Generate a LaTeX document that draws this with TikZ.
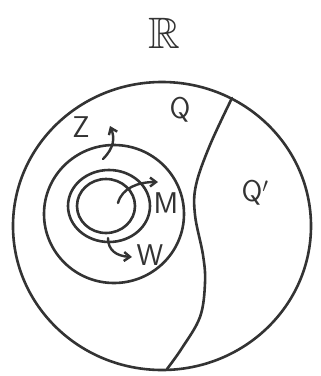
\documentclass[tikz,border=0pt]{standalone}
\usepackage{amsmath,amssymb}
\usepackage{tikz}
\usetikzlibrary{arrows.meta, positioning}

\begin{document}
\begin{tikzpicture}[
    x=1pt, y=-1pt, line width=2.6pt, line cap=round,
    region/.style={draw, line width=2.6pt, draw=black!80},
    setlabel/.style={font=\sffamily\fontsize{30}{32}\selectfont, text=black!80, inner sep=0pt},
    pointer/.style={-{Straight Barb[length=6pt, width=9pt, line width=2.4pt]}, line width=2.4pt, draw=black!80}
]
    \useasboundingbox (0,0) rectangle (321,376);

    % ================= TITLE =================
    \node[inner sep=0pt, text=black!80] (title) at (164,33) {\fontsize{44}{44}\selectfont$\mathbb{R}$};

    % ================= REGIONS =================
    \draw[region] (162,226) ellipse [x radius=149, y radius=144];
    \draw[region] (114,214) ellipse [x radius=70, y radius=69];
    \draw[region] (109,206) ellipse [x radius=41, y radius=36];
    \draw[region] (106,206) ellipse [x radius=29, y radius=27];

    % Q / Q' divider
    \draw[region] plot[smooth, tension=0.6] coordinates {
        (232,98) (210,145) (196,185) (195,215) (203,255)
        (205,283) (200,317) (182,348) (167,369)};

    % ================= LABELS =================
    \node[setlabel] (Q) at (180,110) {Q};
    \node[setlabel] (Qp) at (255,193) {Q$'$};
    \node[setlabel] (Z) at (81,127) {Z};
    \node[setlabel] (M) at (166,203) {M};
    \node[setlabel] (W) at (150,255) {W};

    % ================= POINTERS =================
    \coordinate (zfoot) at (103,159);
    \coordinate (ztip) at (110,126);
    \coordinate (mfoot) at (118,203);
    \coordinate (mtip) at (158,182);
    \coordinate (wfoot) at (108,238);
    \coordinate (wtip) at (132,257);

    \draw[pointer] (zfoot) .. controls (114,148) and (115,138) .. (ztip);
    \draw[pointer] (mfoot) .. controls (122,188) and (138,182) .. (mtip);
    \draw[pointer] (wfoot) .. controls (108,250) and (116,256) .. (wtip);

\end{tikzpicture}
\end{document}
